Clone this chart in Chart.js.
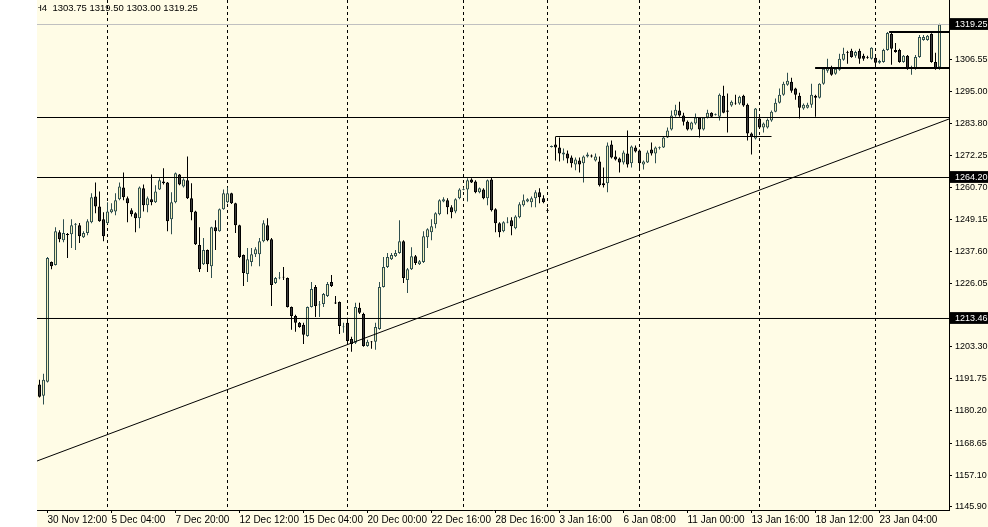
<!DOCTYPE html>
<html>
<head>
<meta charset="utf-8">
<script src="https://cdn.jsdelivr.net/npm/chart.js@4.4.1/dist/chart.umd.min.js"></script>
<style>
  html, body { margin: 0; padding: 0; background: #ffffff; }
  #wrap { width: 988px; height: 527px; position: relative; }
</style>
</head>
<body>
<div id="wrap"><canvas id="chart"></canvas></div>
<script>
// H4 bars, oldest first
const opens = [
  1189.7,1185.7,1190.7,1233.8,1232.7,1244.5,1241.6,1243.9,1243.8,1247.2,
  1247.0,1242.7,1244.2,1248.1,1257.4,1253.8,1249.2,1247.7,1251.7,1252.0,
  1256.4,1260.6,1256.7,1252.4,1251.3,1249.5,1260.3,1254.2,1256.4,1255.3,
  1259.9,1262.8,1262.4,1249.2,1255.3,1265.3,1261.0,1263.2,1256.7,1252.0,
  1239.9,1233.0,1238.1,1232.3,1246.3,1244.9,1252.8,1255.3,1258.5,1254.9,
  1247.0,1236.3,1229.5,1233.8,1236.6,1236.6,1241.3,1247.0,1242.0,1226.2,
  1227.9,1228.5,1228.0,1217.6,1214.4,1211.9,1211.2,1207.2,1217.6,1224.8,
  1218.2,1218.7,1221.6,1226.6,1219.2,1219.4,1210.3,1211.9,1206.1,1204.7,
  1217.3,1215.1,1203.6,1205.2,1205.1,1209.7,1224.8,1232.0,1234.8,1235.9,
  1237.0,1241.3,1227.3,1231.2,1235.9,1233.0,1233.8,1242.7,1244.5,1247.4,
  1251.0,1255.6,1256.0,1253.5,1252.0,1256.7,1259.8,1259.9,1263.5,1262.8,
  1258.9,1259.9,1256.7,1263.5,1252.8,1247.7,1244.9,1248.0,1248.8,1245.9,
  1249.9,1254.2,1255.6,1255.3,1256.7,1258.9,1256.7,1252.4,1275.2,1276.1,
  1275.0,1272.5,1272.8,1271.4,1268.9,1270.3,1269.3,1271.8,1272.1,1270.3,
  1270.0,1262.1,1262.1,1276.1,1271.8,1271.0,1269.6,1272.8,1269.3,1275.0,
  1273.9,1268.9,1269.6,1274.3,1272.8,1274.9,1275.0,1278.6,1281.5,1286.5,
  1288.3,1286.5,1284.3,1281.5,1283.6,1285.8,1281.5,1285.8,1287.5,1286.7,
  1286.1,1293.6,1288.3,1290.1,1291.1,1290.8,1293.6,1290.4,1280.0,1278.2,
  1285.4,1282.2,1282.2,1284.7,1287.9,1291.1,1294.0,1297.6,1298.7,1296.2,
  1293.6,1289.0,1289.3,1290.4,1293.6,1292.9,1297.9,1302.6,1304.0,1301.5,
  1303.0,1306.6,1309.4,1309.8,1308.0,1309.8,1308.0,1307.6,1306.9,1307.3,
  1305.5,1305.8,1310.1,1315.9,1310.1,1310.1,1305.8,1308.0,1303.5,1303.3,
  1307.6,1313.7,1313.7,1315.9,1305.8,1303.75
];
const highs = [
  1191.4,1193.6,1235.6,1234.0,1246.3,1245.2,1249.2,1244.2,1249.2,1247.8,
  1247.8,1244.9,1249.2,1258.5,1262.4,1259.2,1251.7,1255.3,1254.9,1258.5,
  1262.4,1266.0,1257.4,1253.1,1251.7,1261.0,1261.7,1257.4,1265.3,1261.4,
  1263.9,1267.5,1262.6,1258.9,1266.0,1265.5,1263.9,1271.8,1262.1,1252.2,
  1246.3,1242.4,1238.3,1246.5,1248.8,1253.0,1259.9,1260.6,1258.7,1255.1,
  1247.2,1236.5,1238.8,1238.8,1239.1,1242.4,1248.8,1249.5,1242.4,1228.4,
  1230.2,1232.0,1228.2,1217.8,1214.8,1212.2,1211.9,1217.8,1226.6,1225.5,
  1219.8,1222.6,1226.6,1229.1,1221.6,1219.6,1211.9,1213.7,1206.9,1219.1,
  1219.1,1215.5,1205.8,1205.4,1211.9,1226.6,1235.6,1237.0,1237.0,1238.1,
  1248.8,1241.6,1231.6,1239.1,1236.3,1234.5,1244.9,1245.9,1249.2,1251.7,
  1256.4,1257.1,1256.7,1254.2,1256.7,1260.3,1260.6,1263.9,1263.9,1263.2,
  1260.6,1260.3,1263.5,1264.2,1253.1,1248.1,1248.5,1249.9,1249.9,1250.6,
  1255.3,1258.1,1256.7,1257.4,1259.6,1260.3,1257.8,1253.1,1275.7,1278.9,
  1278.6,1274.6,1273.9,1272.1,1271.4,1271.4,1272.1,1273.2,1272.5,1272.8,
  1271.8,1267.8,1276.8,1277.5,1273.9,1271.4,1273.9,1281.1,1275.7,1275.7,
  1274.3,1270.3,1273.9,1276.8,1275.4,1275.4,1278.9,1282.2,1288.3,1290.4,
  1291.5,1287.5,1284.7,1284.3,1287.2,1286.0,1286.0,1288.6,1287.7,1287.2,
  1294.4,1297.2,1294.4,1291.9,1294.0,1293.6,1294.0,1290.8,1280.4,1289.2,
  1285.6,1284.0,1285.4,1288.3,1292.6,1296.2,1298.7,1301.9,1300.1,1296.5,
  1294.7,1290.8,1291.1,1297.9,1294.0,1298.1,1303.7,1306.9,1304.4,1303.7,
  1308.7,1310.9,1309.8,1310.5,1309.8,1310.5,1308.7,1308.0,1311.1,1308.0,
  1306.6,1310.5,1316.6,1316.2,1312.6,1310.5,1308.3,1308.3,1304.4,1308.3,
  1315.5,1315.5,1315.5,1316.1,1309.1,1319.50
];
const lows = [
  1185.0,1182.5,1190.4,1231.2,1232.5,1240.9,1240.9,1235.2,1238.8,1238.1,
  1240.6,1242.4,1243.4,1247.7,1251.3,1248.3,1241.3,1247.5,1251.3,1250.6,
  1256.0,1256.0,1248.1,1250.2,1244.5,1245.9,1252.0,1251.7,1254.2,1255.0,
  1259.7,1261.7,1244.9,1243.8,1254.9,1261.4,1260.6,1256.5,1248.8,1239.9,
  1230.2,1232.7,1230.2,1228.0,1238.1,1244.7,1252.6,1254.9,1254.7,1244.2,
  1235.2,1225.2,1226.6,1232.3,1235.6,1232.3,1240.9,1241.3,1218.0,1225.9,
  1227.6,1227.3,1217.4,1209.4,1208.7,1210.1,1204.3,1206.9,1217.4,1214.0,
  1214.0,1217.6,1221.2,1224.8,1218.7,1207.9,1208.3,1204.7,1201.5,1204.3,
  1215.1,1203.3,1203.3,1202.6,1202.2,1209.4,1224.6,1231.6,1234.5,1235.6,
  1236.8,1226.2,1222.6,1230.9,1232.7,1232.7,1233.4,1238.8,1241.6,1245.9,
  1250.6,1255.3,1251.0,1249.5,1251.3,1256.4,1259.6,1255.6,1262.2,1258.5,
  1258.5,1256.4,1254.2,1252.0,1244.5,1242.7,1244.5,1247.7,1243.4,1245.6,
  1249.5,1253.8,1255.3,1253.5,1253.5,1254.9,1254.9,1252.0,1275.0,1270.3,
  1270.0,1270.3,1269.3,1267.8,1266.8,1266.0,1262.4,1271.4,1271.4,1270.0,
  1261.0,1260.6,1258.9,1271.0,1270.3,1266.0,1268.9,1267.8,1267.8,1273.2,
  1266.8,1267.1,1269.4,1272.1,1269.3,1274.3,1274.8,1278.4,1281.1,1286.1,
  1286.1,1282.9,1281.1,1281.1,1283.2,1278.6,1281.1,1285.4,1285.8,1286.5,
  1284.7,1287.3,1280.4,1289.7,1290.4,1290.4,1289.7,1277.5,1272.5,1277.9,
  1281.8,1280.4,1281.8,1284.3,1287.7,1290.8,1293.6,1297.2,1294.7,1292.2,
  1285.4,1288.6,1289.0,1289.3,1286.1,1292.6,1297.6,1301.9,1300.8,1301.2,
  1302.6,1306.2,1305.1,1307.3,1307.3,1305.1,1306.2,1306.9,1306.7,1303.3,
  1305.1,1305.5,1309.8,1304.8,1309.1,1305.5,1305.5,1303.0,1301.2,1303.0,
  1307.3,1313.4,1313.4,1305.5,1303.0,1303.00
];
const closes = [
  1185.3,1191.4,1235.2,1232.3,1244.9,1242.0,1244.2,1243.5,1247.0,1247.6,
  1243.1,1244.2,1248.5,1257.1,1253.8,1248.5,1243.1,1252.0,1252.8,1256.0,
  1261.0,1257.1,1254.9,1251.0,1249.5,1260.6,1254.2,1256.7,1255.3,1259.2,
  1263.2,1262.1,1248.5,1255.3,1265.7,1261.7,1263.5,1256.7,1251.7,1240.2,
  1231.2,1238.1,1233.0,1246.3,1244.9,1252.8,1258.5,1258.5,1254.9,1247.0,
  1235.6,1229.8,1234.8,1236.6,1238.4,1241.3,1247.7,1241.6,1225.5,1228.0,
  1228.2,1228.2,1217.6,1214.4,1211.9,1210.4,1207.6,1217.6,1224.1,1218.0,
  1218.5,1222.3,1225.9,1225.2,1218.9,1210.8,1210.6,1205.4,1204.3,1217.6,
  1215.5,1203.6,1205.1,1204.9,1210.4,1224.8,1232.0,1235.6,1236.3,1237.0,
  1241.3,1228.0,1231.2,1235.9,1233.4,1234.1,1243.1,1245.6,1246.7,1251.3,
  1256.0,1256.4,1253.5,1251.7,1256.4,1259.9,1260.1,1263.2,1262.4,1258.9,
  1260.3,1256.7,1263.2,1252.4,1247.7,1244.5,1248.1,1248.3,1246.7,1250.2,
  1254.6,1256.0,1256.4,1256.7,1258.9,1257.1,1255.3,1252.1,1275.5,1275.0,
  1272.8,1273.2,1271.0,1269.3,1270.7,1268.9,1271.8,1272.5,1271.8,1271.8,
  1261.4,1261.4,1275.7,1271.4,1270.7,1269.6,1273.2,1268.9,1275.4,1273.6,
  1269.3,1270.0,1273.2,1272.8,1275.0,1275.2,1278.6,1281.1,1286.5,1288.6,
  1286.5,1284.3,1281.5,1284.0,1285.8,1281.5,1285.8,1287.5,1286.1,1287.0,
  1294.0,1287.5,1287.9,1291.5,1290.8,1293.3,1290.1,1280.0,1278.9,1289.0,
  1282.2,1283.6,1285.0,1287.9,1291.1,1294.0,1297.9,1299.0,1295.4,1294.0,
  1289.3,1290.4,1290.4,1294.0,1292.9,1297.9,1303.3,1304.0,1301.2,1303.3,
  1306.9,1308.7,1309.1,1307.6,1309.4,1306.9,1306.9,1307.3,1310.9,1305.5,
  1306.2,1310.1,1316.2,1310.5,1309.4,1305.8,1308.0,1303.3,1303.8,1307.6,
  1314.8,1314.8,1315.2,1305.8,1303.3,1319.25
];

// time axis labels and the bars they sit on
const tickLabels = [
  "30 Nov 12:00", "5 Dec 04:00", "7 Dec 20:00", "12 Dec 12:00", "15 Dec 04:00",
  "20 Dec 00:00", "22 Dec 16:00", "28 Dec 16:00", "3 Jan 16:00", "6 Jan 08:00",
  "11 Jan 00:00", "13 Jan 16:00", "18 Jan 12:00", "23 Jan 04:00"
];
const tickBars = [2, 18, 34, 50, 66, 82, 98, 114, 130, 146, 162, 178, 194, 210];
// week separators (dashed)
const weekBars = [17, 47, 77, 106, 127, 150, 180, 209];

// price scale
const priceTicks = [1145.90, 1157.10, 1168.65, 1180.20, 1191.75, 1203.30, 1226.05,
  1237.60, 1249.15, 1260.70, 1272.25, 1283.80, 1295.00, 1306.55];
const markedLevels = [1213.46, 1264.20, 1319.25];

// drawn objects
const hLevels = [1213.46, 1264.20, 1285.79];
const bidPrice = 1319.25;
const trendFrom = 1162.18, trendTo = 1285.25;
const rangeLine = { price: 1278.95, from: 129, to: 183 };
const channelTop = { price: 1316.56, from: 212.4 };
const channelBottom = { price: 1303.60, from: 193.9 };

const X_MIN = -0.625, X_MAX = 227.375;
const Y_MAX = 1328.075, Y_MIN = 1144.547;

const FONT = "'Liberation Sans', Arial, sans-serif";
const BG = "#fffce6";
const BULL_FILL = "#f3efb8", BULL_EDGE = "#2f4f4f";
const BEAR_FILL = "#3a3a3a", BEAR_EDGE = "#000000";

const isUp = (i) => closes[i] >= opens[i];

function hLine(price, from, to, color, width) {
  return {
    type: "line",
    data: [{ x: from, y: price }, { x: to, y: price }],
    borderColor: color,
    borderWidth: width,
    pointRadius: 0,
    tension: 0,
    order: 0,
  };
}

const canvasLook = {
  id: "canvasLook",
  beforeDraw(chart) {
    const { ctx, width, height, chartArea } = chart;
    ctx.save();
    ctx.fillStyle = BG;
    ctx.fillRect(0, 0, width, height);
    ctx.fillStyle = "#ffffff";
    ctx.fillRect(0, 0, chartArea.left, height);
    ctx.restore();
  },
  afterDraw(chart) {
    const { ctx, chartArea } = chart;
    const n = opens.length - 1;
    const text = "H4  " + [opens[n], highs[n], lows[n], closes[n]].map((v) => v.toFixed(2)).join(" ");
    ctx.save();
    ctx.beginPath();
    ctx.rect(chartArea.left + 1, 0, 400, 20);
    ctx.clip();
    ctx.font = "9.5px " + FONT;
    ctx.fillStyle = "#000";
    ctx.textBaseline = "middle";
    ctx.fillText(text, chartArea.left - 2, 8);
    ctx.restore();
  },
};

const datasets = [
  hLine(hLevels[0], X_MIN, X_MAX, "#000", 1),
  hLine(hLevels[1], X_MIN, X_MAX, "#000", 1),
  hLine(hLevels[2], X_MIN, X_MAX, "#000", 1),
  hLine(bidPrice, X_MIN, X_MAX, "#c0c0c0", 1),
  hLine(rangeLine.price, rangeLine.from, rangeLine.to, "#000", 1),
  hLine(channelTop.price, channelTop.from, X_MAX, "#000", 2),
  hLine(channelBottom.price, channelBottom.from, X_MAX, "#000", 2),
  {
    type: "line",
    data: [{ x: X_MIN, y: trendFrom }, { x: X_MAX, y: trendTo }],
    borderColor: "#000",
    borderWidth: 1,
    pointRadius: 0,
    order: 0,
  },
  {
    type: "bar",
    label: "body",
    order: 1,
    data: opens.map((o, i) => ({ x: i, y: [o, closes[i]] })),
    backgroundColor: (c) => (c.dataIndex === undefined || isUp(c.dataIndex) ? BULL_FILL : BEAR_FILL),
    borderColor: (c) => (c.dataIndex === undefined || isUp(c.dataIndex) ? BULL_EDGE : BEAR_EDGE),
    borderWidth: 1,
    borderSkipped: false,
    barThickness: 3,
    grouped: false,
    inflateAmount: 0,
  },
  {
    type: "bar",
    label: "wick",
    order: 2,
    data: lows.map((l, i) => ({ x: i, y: [l, highs[i]] })),
    backgroundColor: (c) => (c.dataIndex === undefined || isUp(c.dataIndex) ? BULL_EDGE : BEAR_EDGE),
    borderWidth: 0,
    barThickness: 1,
    grouped: false,
    inflateAmount: 0,
  },
];

new Chart(document.getElementById("chart"), {
  type: "bar",
  data: { datasets },
  plugins: [canvasLook],
  options: {
    responsive: true,
    maintainAspectRatio: false,
    devicePixelRatio: 1,
    animation: false,
    events: [],
    layout: { padding: { left: 37, top: 0, right: 0, bottom: 0 } },
    plugins: { legend: { display: false }, tooltip: { enabled: false } },
    scales: {
      x: {
        type: "linear",
        offset: false,
        min: X_MIN,
        max: X_MAX,
        bounds: "data",
        afterBuildTicks: (scale) => {
          scale.ticks = [...tickBars, ...weekBars].sort((a, b) => a - b).map((v) => ({ value: v }));
        },
        afterFit: (scale) => {
          scale.height = 17;
          scale.paddingLeft = 0;
          scale.paddingRight = 0;
        },
        ticks: {
          autoSkip: false,
          maxRotation: 0,
          minRotation: 0,
          align: "start",
          padding: 1,
          color: "#000",
          font: { family: FONT, size: 10 },
          callback: (v) => {
            const k = tickBars.indexOf(v);
            return k >= 0 ? tickLabels[k] : "";
          },
        },
        grid: {
          offset: false,
          drawOnChartArea: true,
          lineWidth: 1,
          color: (c) => (c.tick && weekBars.includes(c.tick.value) ? "#000" : "rgba(0,0,0,0)"),
          tickLength: 3,
          tickColor: (c) => (c.tick && tickBars.includes(c.tick.value) ? "#000" : "rgba(0,0,0,0)"),
        },
        border: { display: true, color: "#000", width: 1, dash: [3, 3] },
      },
      y: {
        type: "linear",
        position: "right",
        min: Y_MIN,
        max: Y_MAX,
        bounds: "data",
        afterBuildTicks: (scale) => {
          scale.ticks = [...priceTicks, ...markedLevels].sort((a, b) => a - b).map((v) => ({ value: v }));
        },
        afterFit: (scale) => {
          scale.width = 39;
          scale.paddingTop = 0;
          scale.paddingBottom = 0;
        },
        ticks: {
          autoSkip: false,
          padding: 3,
          font: { family: FONT, size: 9 },
          color: (c) => (c.tick && markedLevels.includes(c.tick.value) ? "#fff" : "#000"),
          showLabelBackdrop: (c) => !!(c.tick && markedLevels.includes(c.tick.value)),
          backdropColor: "#000",
          backdropPadding: { top: 1, bottom: 0, left: 5, right: 6 },
          callback: (v) => Number(v).toFixed(2),
        },
        grid: {
          drawOnChartArea: false,
          tickLength: 3,
          tickColor: "#000",
        },
        border: { display: true, color: "#000", width: 1 },
      },
    },
  },
});
</script>
</body>
</html>
